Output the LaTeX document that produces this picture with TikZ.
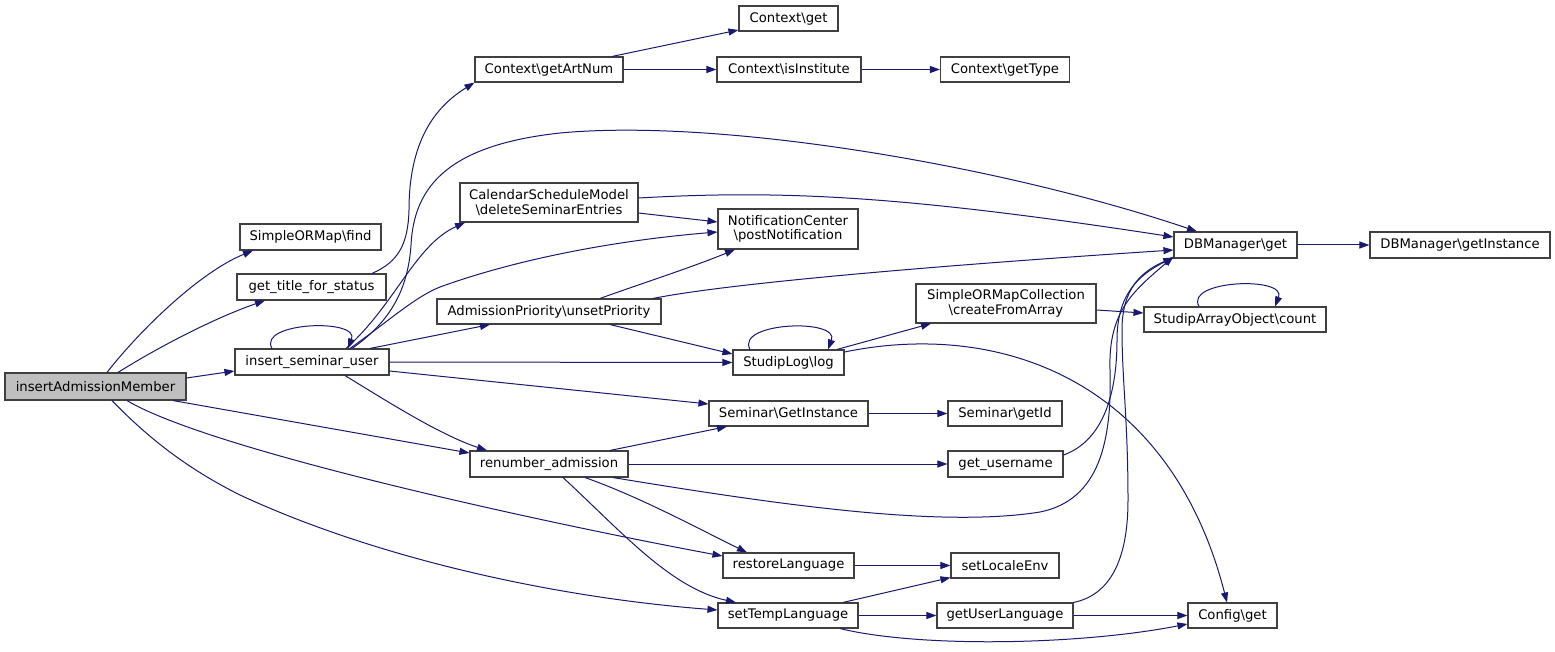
\documentclass[tikz,border=0pt]{standalone}
\usepackage{fontspec}
\setmainfont{DejaVu Sans}
\usetikzlibrary{arrows.meta}
\definecolor{edgec}{HTML}{191970}
\definecolor{nodefill}{HTML}{BFBFBF}
\definecolor{nodeborder}{HTML}{404040}
\begin{document}
\begin{tikzpicture}[x=1pt,y=-1pt,
  box/.style={draw=nodeborder, line width=1.1pt, fill=white, inner sep=0pt, align=center,
    font=\fontsize{13.2}{14.5}\selectfont},
  e/.style={draw=edgec, line width=1pt, -{Triangle[length=10pt,width=7pt]}}]
\fill[white] (0,0) rectangle (1555,652);
\useasboundingbox (0,0) rectangle (1555,652);
% nodes
\node[box, fill=nodefill, minimum width=181pt, minimum height=27pt] (iam) at (95.5,386.5) {insertAdmissionMember};
\node[box, minimum width=141pt, minimum height=26pt] (find) at (310.5,237) {SimpleORMap\textbackslash find};
\node[box, minimum width=149pt, minimum height=26pt] (gtfs) at (311.5,287) {get\_title\_for\_status};
\node[box, minimum width=154pt, minimum height=26pt] (isu) at (312,362) {insert\_seminar\_user};
\node[box, minimum width=148pt, minimum height=25pt] (gan) at (549,69.5) {Context\textbackslash getArtNum};
\node[box, minimum width=99pt, minimum height=25pt] (cget) at (788.5,18.5) {Context\textbackslash get};
\node[box, minimum width=144pt, minimum height=25pt] (cii) at (789,69.5) {Context\textbackslash isInstitute};
\node[box, minimum width=129pt, minimum height=25pt] (cgt) at (1005,69.5) {Context\textbackslash getType};
\node[box, minimum width=178pt, minimum height=39pt] (csm) at (549,202.5) {CalendarScheduleModel\\\textbackslash deleteSeminarEntries};
\node[box, minimum width=140pt, minimum height=40pt] (nc) at (788,229) {NotificationCenter\\\textbackslash postNotification};
\node[box, minimum width=224pt, minimum height=25pt] (ap) at (549,311.5) {AdmissionPriority\textbackslash unsetPriority};
\node[box, minimum width=111pt, minimum height=25pt] (slog) at (788.5,362.5) {StudipLog\textbackslash log};
\node[box, minimum width=123pt, minimum height=26pt] (dbg) at (1235.5,245) {DBManager\textbackslash get};
\node[box, minimum width=180pt, minimum height=26pt] (dbgi) at (1460,245) {DBManager\textbackslash getInstance};
\node[box, minimum width=180pt, minimum height=39pt] (somc) at (1006,303.5) {SimpleORMapCollection\\\textbackslash createFromArray};
\node[box, minimum width=182pt, minimum height=25pt] (sac) at (1235,319.5) {StudipArrayObject\textbackslash count};
\node[box, minimum width=159pt, minimum height=25pt] (sgi) at (788.5,413.5) {Seminar\textbackslash GetInstance};
\node[box, minimum width=158pt, minimum height=26pt] (ra) at (549,464) {renumber\_admission};
\node[box, minimum width=114pt, minimum height=25pt] (sgid) at (1005,413.5) {Seminar\textbackslash getId};
\node[box, minimum width=115pt, minimum height=26pt] (gun) at (1005.5,464) {get\_username};
\node[box, minimum width=131pt, minimum height=25pt] (rl) at (788.5,565.5) {restoreLanguage};
\node[box, minimum width=140pt, minimum height=25pt] (stl) at (788,615.5) {setTempLanguage};
\node[box, minimum width=108pt, minimum height=25pt] (sle) at (1005,565.5) {setLocaleEnv};
\node[box, minimum width=136pt, minimum height=25pt] (gul) at (1005,615.5) {getUserLanguage};
\node[box, minimum width=89pt, minimum height=25pt] (cfg) at (1232.5,615.5) {Config\textbackslash get};
% edges from insertAdmissionMember
\draw[e] ([xshift=11.5pt]iam.north) .. controls (140,330) and (200,272) .. ([xshift=-57.5pt]find.south);
\draw[e] ([xshift=22.5pt]iam.north) .. controls (165,343) and (220,316) .. ([xshift=-46.5pt]gtfs.south);
\draw[e] ([yshift=8.5pt]iam.east) -- ([yshift=-9pt]isu.west);
\draw[e] ([xshift=77.5pt]iam.south) -- ([yshift=11pt]ra.west);
\draw[e] ([xshift=31.5pt]iam.south) .. controls (210,450) and (540,522) .. ([yshift=9.5pt]rl.west);
\draw[e] ([xshift=16.5pt]iam.south) .. controls (150,440) and (190,470) .. (240,495) .. controls (380,560) and (560,598) .. ([yshift=5.5pt]stl.west);
% get_title_for_status
\draw[e] ([xshift=60.5pt]gtfs.north) .. controls (398,262) and (408,245) .. (409,210) .. controls (409,135) and (440,104) .. (gan.south west);
% Context
\draw[e] ([xshift=63pt]gan.north) -- ([yshift=-11.5pt]cget.west);
\draw[e] (gan.east) -- (cii.west);
\draw[e] (cii.east) -- (cgt.west);
% insert_seminar_user
\draw[e] ([xshift=-40pt]isu.north) .. controls (257,322) and (360,318) .. ([xshift=36pt]isu.north);
\draw[e] ([xshift=40pt]isu.north) .. controls (390,322) and (408,290) .. (411,245) .. controls (414,185) and (450,145) .. (560,133) .. controls (720,118) and (1000,165) .. ([xshift=-38.5pt]dbg.north);
\draw[e] ([xshift=34pt]isu.north) .. controls (395,305) and (415,245) .. ([xshift=-84pt]csm.south);
\draw[e] ([xshift=38pt]isu.north) .. controls (390,320) and (415,297) .. (440,287) .. controls (520,258) and (620,240) .. ([yshift=-3pt]nc.west);
\draw[e] ([xshift=58pt]isu.north) -- ([xshift=-59pt]ap.south);
\draw[e] (isu.east) -- (slog.west);
\draw[e] ([yshift=-9pt]isu.east) -- ([yshift=9.5pt]sgi.west);
\draw[e] ([xshift=33pt]isu.south) .. controls (385,400) and (440,435) .. ([xshift=-62pt]ra.north);
% CalendarScheduleModel
\draw[e] ([yshift=-10.5pt]csm.east) -- ([yshift=7pt]nc.west);
\draw[e] ([yshift=4.5pt]csm.east) .. controls (780,190) and (900,195) .. ([yshift=8pt]dbg.west);
% AdmissionPriority
\draw[e] ([xshift=51pt]ap.north) .. controls (640,284) and (690,268) .. ([xshift=-53pt]nc.south);
\draw[e] ([xshift=104pt]ap.north) .. controls (720,285) and (900,268) .. ([yshift=-5pt]dbg.west);
\draw[e] ([xshift=61pt]ap.south) -- ([yshift=8.5pt]slog.west);
% StudipLog
\draw[e] ([xshift=-38.5pt]slog.north) .. controls (735,322) and (840,318) .. ([xshift=39.5pt]slog.north);
\draw[e] ([xshift=48.5pt]slog.north) -- ([xshift=-75pt]somc.south);
\draw[e] ([yshift=10.5pt]slog.east) .. controls (1000,320) and (1170,380) .. ([xshift=-5.5pt]cfg.north);
% SimpleORMapCollection, StudipArrayObject, DBManager
\draw[e] ([yshift=-6.5pt]somc.east) -- ([yshift=6.5pt]sac.west);
\draw[e] ([xshift=-36pt]sac.north) .. controls (1184,280) and (1287,276) .. ([xshift=40pt]sac.north);
\draw[e] (dbg.east) -- (dbgi.west);
% renumber_admission
\draw[e] ([xshift=61pt]ra.north) -- ([xshift=-61.5pt]sgi.south);
\draw[e] (ra.east) -- (gun.west);
\draw[e] ([xshift=64pt]ra.south) .. controls (780,505) and (940,528) .. (1040,512) .. controls (1100,500) and (1112,440) .. (1110,370) .. controls (1108,310) and (1135,290) .. ([yshift=2pt]dbg.south west);
\draw[e] ([xshift=36pt]ra.south) .. controls (640,497) and (695,527) .. ([xshift=-41.5pt]rl.north);
\draw[e] ([xshift=14pt]ra.south) .. controls (620,530) and (670,588) .. ([xshift=-52pt]stl.north);
% others
\draw[e] (sgi.east) -- (sgid.west);
\draw[e] ([yshift=9pt]gun.east) .. controls (1105,440) and (1117,390) .. (1117,340) .. controls (1117,295) and (1138,275) .. ([yshift=1pt]dbg.south west);
\draw[e] (rl.east) -- (sle.west);
\draw[e] ([xshift=55pt]stl.north) -- ([yshift=1pt]sle.south west);
\draw[e] (stl.east) -- (gul.west);
\draw[e] ([xshift=52pt]stl.south) .. controls (920,648) and (1080,645) .. ([yshift=-8.5pt]cfg.west);
\draw[e] (gul.east) -- (cfg.west);
\draw[e] (gul.north east) .. controls (1110,595) and (1128,560) .. (1128,500) .. controls (1128,420) and (1122,380) .. (1122,330) .. controls (1122,290) and (1140,272) .. ([yshift=1pt]dbg.south west);
\end{tikzpicture}
\end{document}
